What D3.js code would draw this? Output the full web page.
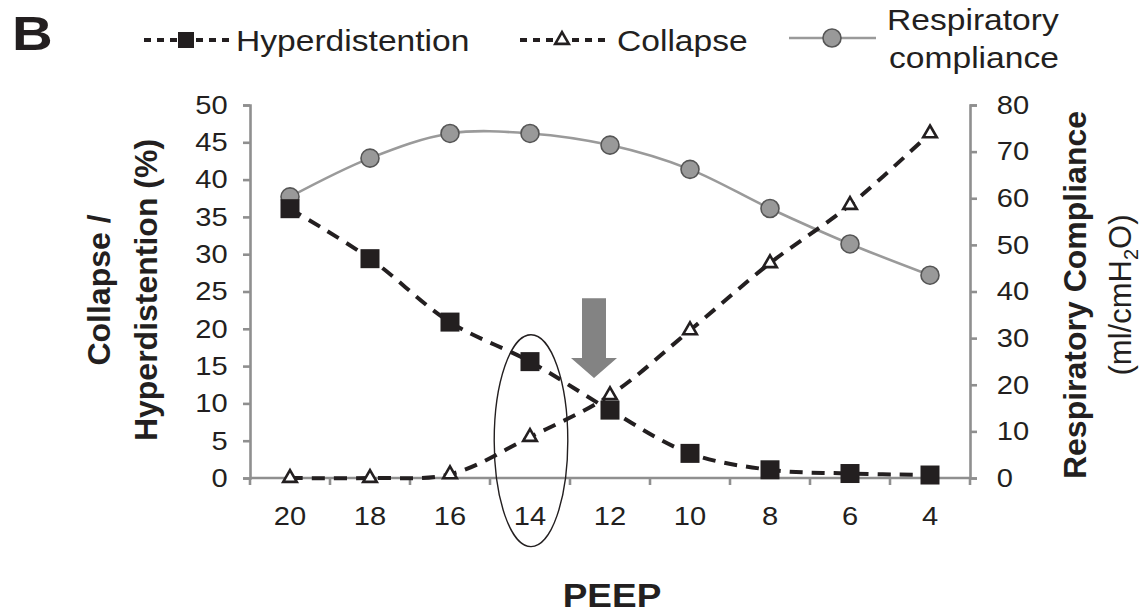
<!DOCTYPE html>
<html>
<head>
<meta charset="utf-8">
<script src="https://cdn.jsdelivr.net/npm/d3@7"></script>
<style>
  html, body { margin: 0; padding: 0; background: #ffffff; }
  svg { display: block; }
  text { font-family: "Liberation Sans", Arial, Helvetica, sans-serif; fill: #231f20; }
</style>
</head>
<body>
<svg id="chart" width="1145" height="613"></svg>
<script>
// ---- Data ----
const peep = ["20", "18", "16", "14", "12", "10", "8", "6", "4"];
const hyperdistention = [36.1, 29.4, 20.9, 15.6, 9.1, 3.3, 1.1, 0.6, 0.4];
const collapse = [0, 0, 0.5, 5.5, 11.1, 19.8, 28.8, 36.6, 46.2];
const compliance = [60.3, 68.6, 73.9, 73.9, 71.4, 66.2, 57.8, 50.2, 43.5];
const leftTicks = [0, 5, 10, 15, 20, 25, 30, 35, 40, 45, 50];
const rightTicks = [0, 10, 20, 30, 40, 50, 60, 70, 80];
const legendLabels = ["Hyperdistention", "Collapse", ["Respiratory", "compliance"]];

// ---- Layout ----
const svg = d3.select("#chart");
const plotL = 250, plotR = 970, plotT = 105, plotB = 478;
const axisColor = "#8f8f8f";
const ink = "#231f20";
const SX = 1.12; // horizontal glyph stretch of the reference's text

const x = d3.scaleBand().domain(peep).range([plotL, plotR]).paddingInner(0).paddingOuter(0);
const xc = d => x(d) + x.bandwidth() / 2;
const yL = d3.scaleLinear().domain([0, 50]).range([plotB, plotT]);
const yR = d3.scaleLinear().domain([0, 80]).range([plotB, plotT]);

function styleAxis(g) {
  g.select(".domain").attr("stroke", axisColor).attr("stroke-width", 2.6);
  g.selectAll(".tick line").attr("stroke", axisColor).attr("stroke-width", 2.6);
  g.selectAll(".tick text").attr("fill", ink).style("font-size", "26px")
    .style("font-family", "'Liberation Sans', Arial, sans-serif")
    .attr("transform", `scale(${SX},1)`);
}

// Left axis
const gL = svg.append("g").attr("transform", `translate(${plotL},0)`)
  .call(d3.axisLeft(yL).tickValues(leftTicks).tickSize(7).tickPadding(13).tickSizeOuter(7));
styleAxis(gL);

// Right axis
const gR = svg.append("g").attr("transform", `translate(${plotR},0)`)
  .call(d3.axisRight(yR).tickValues(rightTicks).tickSize(7).tickPadding(17).tickSizeOuter(7));
styleAxis(gR);

// Bottom axis: ticks at band boundaries, labels at band centres
const boundaries = peep.map(d => x(d)).concat([plotR]);
const gB = svg.append("g").attr("transform", `translate(0,${plotB})`);
gB.append("line").attr("x1", plotL).attr("x2", plotR).attr("y1", 0).attr("y2", 0)
  .attr("stroke", axisColor).attr("stroke-width", 2.6);
gB.selectAll("line.tk").data(boundaries).enter().append("line").attr("class", "tk")
  .attr("x1", d => d).attr("x2", d => d).attr("y1", 0).attr("y2", 7)
  .attr("stroke", axisColor).attr("stroke-width", 2.6);
gB.selectAll("text.lb").data(peep).enter().append("text").attr("class", "lb")
  .attr("transform", d => `translate(${xc(d)},47) scale(${SX},1)`)
  .attr("text-anchor", "middle").style("font-size", "26px").text(d => d);

// ---- Series ----
const curve = d3.curveCatmullRom.alpha(0.5);

// Respiratory compliance (right axis)
const compPts = peep.map((p, i) => [xc(p), yR(compliance[i])]);
svg.append("path").attr("d", d3.line().curve(curve)(compPts))
  .attr("fill", "none").attr("stroke", "#9a9a9a").attr("stroke-width", 2.6);
svg.selectAll("circle.comp").data(compPts).enter().append("circle").attr("class", "comp")
  .attr("cx", d => d[0]).attr("cy", d => d[1]).attr("r", 9)
  .attr("fill", "#999999").attr("stroke", "#555555").attr("stroke-width", 1.6);

// Hyperdistention (left axis)
const hypPts = peep.map((p, i) => [xc(p), yL(hyperdistention[i])]);
svg.append("path").attr("d", d3.line().curve(curve)(hypPts))
  .attr("fill", "none").attr("stroke", ink).attr("stroke-width", 4)
  .attr("stroke-dasharray", "13,9");
const sq = 19;
svg.selectAll("rect.hyp").data(hypPts).enter().append("rect").attr("class", "hyp")
  .attr("x", d => d[0] - sq / 2).attr("y", d => d[1] - sq / 2)
  .attr("width", sq).attr("height", sq).attr("fill", ink);

// Collapse (left axis)
const colPts = peep.map((p, i) => [xc(p), yL(collapse[i])]);
svg.append("path").attr("d", d3.line().curve(curve)(colPts))
  .attr("fill", "none").attr("stroke", ink).attr("stroke-width", 4)
  .attr("stroke-dasharray", "13,9");
const tri = d3.symbol().type(d3.symbolTriangle).size(80);
svg.selectAll("path.col").data(colPts).enter().append("path").attr("class", "col")
  .attr("d", tri).attr("transform", d => `translate(${d[0]},${d[1]})`)
  .attr("fill", "#ffffff").attr("stroke", ink).attr("stroke-width", 2.6);

// ---- Annotations ----
// Ellipse around PEEP 14
const step = x.step();
svg.append("ellipse")
  .attr("cx", xc("14") + 1).attr("cy", yL(5))
  .attr("rx", step * 0.46).attr("ry", yL(0) - yL(14.2))
  .attr("fill", "none").attr("stroke", ink).attr("stroke-width", 1.4);

// Grey down arrow between PEEP 14 and 12
const ax = xc("14") + step * 0.8;
const aTop = yL(24.1), aNeck = yL(16.1), aTip = yL(13.4);
const arrowPts = [[ax - 12, aTop], [ax + 12, aTop], [ax + 12, aNeck], [ax + 23, aNeck],
  [ax, aTip], [ax - 23, aNeck], [ax - 12, aNeck]];
svg.append("polygon").attr("points", arrowPts.map(p => p.join(",")).join(" "))
  .attr("fill", "#838383");

// ---- Axis titles ----
const t1 = svg.append("g").attr("transform", "translate(110,290) rotate(-90)");
t1.append("text").attr("text-anchor", "middle").style("font-size", "32px")
  .style("font-weight", "bold").text("Collapse /");
const t2 = svg.append("g").attr("transform", "translate(157,290) rotate(-90)");
t2.append("text").attr("text-anchor", "middle").style("font-size", "32px")
  .style("font-weight", "bold").text("Hyperdistention (%)");

const r1 = svg.append("g").attr("transform", "translate(1086,295) rotate(-90)");
r1.append("text").attr("text-anchor", "middle").style("font-size", "32px")
  .style("font-weight", "bold").text("Respiratory Compliance");
const r2 = svg.append("g").attr("transform", "translate(1131,295) rotate(-90)");
const r2t = r2.append("text").attr("text-anchor", "middle").style("font-size", "31px");
r2t.append("tspan").text("(ml/cmH");
r2t.append("tspan").attr("dy", 7).style("font-size", "20px").text("2");
r2t.append("tspan").attr("dy", -7).text("O)");

svg.append("text").attr("transform", `translate(${(plotL + plotR) / 2 + 2},607) scale(${SX},1)`)
  .attr("text-anchor", "middle").style("font-size", "33px").style("font-weight", "bold")
  .text("PEEP");

// Panel letter
svg.append("text").attr("transform", `translate(12,50) scale(1.15,1)`)
  .style("font-size", "49px").style("font-weight", "bold").text("B");

// ---- Legend ----
const ly = 40;
const lg = svg.append("g");
// Hyperdistention
lg.append("line").attr("x1", 144).attr("x2", 232).attr("y1", ly).attr("y2", ly)
  .attr("stroke", ink).attr("stroke-width", 4).attr("stroke-dasharray", "7,6");
lg.append("rect").attr("x", 186 - 8).attr("y", ly - 8).attr("width", 16).attr("height", 16).attr("fill", ink);
lg.append("text").attr("transform", `translate(236,${ly + 11}) scale(${SX},1)`)
  .style("font-size", "30px").text(legendLabels[0]);
// Collapse
lg.append("line").attr("x1", 520).attr("x2", 606).attr("y1", ly).attr("y2", ly)
  .attr("stroke", ink).attr("stroke-width", 4).attr("stroke-dasharray", "7,6");
lg.append("path").attr("d", tri).attr("transform", `translate(562,${ly})`)
  .attr("fill", "#ffffff").attr("stroke", ink).attr("stroke-width", 2.6);
lg.append("text").attr("transform", `translate(617,${ly + 11}) scale(${SX},1)`)
  .style("font-size", "30px").text(legendLabels[1]);
// Respiratory compliance
lg.append("line").attr("x1", 789).attr("x2", 876).attr("y1", ly - 2).attr("y2", ly - 2)
  .attr("stroke", "#9a9a9a").attr("stroke-width", 2.6);
lg.append("circle").attr("cx", 832).attr("cy", ly - 2).attr("r", 9)
  .attr("fill", "#999999").attr("stroke", "#555555").attr("stroke-width", 1.6);
lg.append("text").attr("transform", `translate(887,30) scale(${SX},1)`)
  .style("font-size", "30px").text(legendLabels[2][0]);
lg.append("text").attr("transform", `translate(889,68) scale(${SX},1)`)
  .style("font-size", "30px").text(legendLabels[2][1]);
</script>
</body>
</html>
